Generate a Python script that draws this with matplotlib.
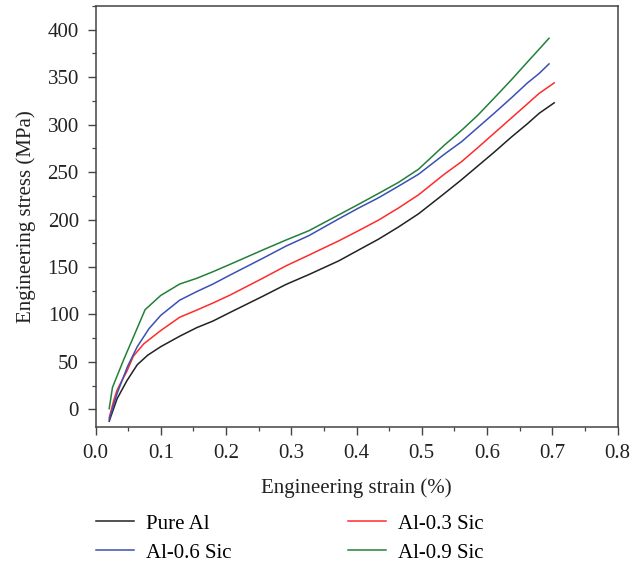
import matplotlib
matplotlib.use("Agg")
import matplotlib.pyplot as plt
from matplotlib.ticker import MultipleLocator, FormatStrFormatter

plt.rcParams["font.family"] = ["Liberation Serif", "DejaVu Serif"]

# strain (%) and stress (MPa)
strain_pure = [0.021, 0.033, 0.048, 0.064, 0.080, 0.100, 0.129, 0.155, 0.180,
               0.206, 0.256, 0.292, 0.327, 0.373, 0.403, 0.434, 0.464, 0.495,
               0.535, 0.561, 0.586, 0.611, 0.637, 0.662, 0.680, 0.703]
stress_pure = [-12.5, 11, 30, 47, 57, 66, 77, 86, 93,
               102, 119, 131.6, 142, 156.5, 167.8, 179.4, 192, 206,
               227.6, 242, 256.5, 271, 286.7, 301, 312, 323]

strain_03 = [0.021, 0.028, 0.033, 0.038, 0.048, 0.058, 0.074, 0.100, 0.129,
             0.155, 0.180, 0.206, 0.256, 0.292, 0.327, 0.373, 0.403, 0.434,
             0.464, 0.495, 0.535, 0.561, 0.586, 0.611, 0.637, 0.662, 0.680, 0.703]
stress_03 = [-9, 9.5, 20, 27, 40, 56, 69, 83, 97,
             104.5, 112, 120.3, 138, 151.2, 162.5, 177.6, 188.2, 199.5,
             212, 226, 248, 261, 275.8, 291, 306.8, 322, 333, 344]

strain_06 = [0.021, 0.033, 0.049, 0.064, 0.082, 0.100, 0.129, 0.155, 0.180,
             0.206, 0.256, 0.292, 0.327, 0.373, 0.403, 0.434, 0.464, 0.495,
             0.535, 0.561, 0.586, 0.611, 0.637, 0.662, 0.680, 0.695]
stress_06 = [-11, 16.5, 45, 66, 85, 99, 115, 124, 132,
             141.4, 159, 172, 183, 200.8, 212, 223, 235, 247.7,
             269, 282, 297, 312, 328, 344, 354, 364]

strain_09 = [0.021, 0.026, 0.033, 0.043, 0.058, 0.076, 0.100, 0.129, 0.155,
             0.180, 0.206, 0.256, 0.292, 0.327, 0.373, 0.403, 0.434, 0.464,
             0.495, 0.535, 0.561, 0.586, 0.611, 0.637, 0.662, 0.680, 0.695]
stress_09 = [0.7, 23, 35, 52, 76, 105, 120, 132, 138,
             145, 152.7, 167.8, 178.4, 188.2, 205, 216, 227.6, 239,
             253, 278.6, 294, 310, 328, 347, 366, 379.6, 391]

fs = 15

fig = plt.figure(figsize=(6.3, 5.63), dpi=100)
ax = fig.add_axes([0.1516, 0.2410, 0.8286, 0.7483])

l_pure, = ax.plot(strain_pure, stress_pure, color="#222222", lw=1.1, label="Pure Al")
l_03, = ax.plot(strain_03, stress_03, color="#ff2b2b", lw=1.1, label="Al-0.3 Sic")
l_06, = ax.plot(strain_06, stress_06, color="#3a50b4", lw=1.1, label="Al-0.6 Sic")
l_09, = ax.plot(strain_09, stress_09, color="#23803a", lw=1.1, label="Al-0.9 Sic")

ax.set_xlim(0, 0.8)
ax.set_ylim(-19, 425)
ax.xaxis.set_major_locator(MultipleLocator(0.1))
ax.xaxis.set_minor_locator(MultipleLocator(0.05))
ax.yaxis.set_major_locator(MultipleLocator(50))
ax.yaxis.set_minor_locator(MultipleLocator(25))
ax.xaxis.set_major_formatter(FormatStrFormatter("%.1f"))
ax.tick_params(which="major", direction="out", length=6, width=1, pad=6,
               labelsize=fs, color="#444444", labelcolor="#222222")
ax.tick_params(which="minor", direction="out", length=3, width=0.9, color="#444444")
for s in ax.spines.values():
    s.set_color("#444444")
    s.set_linewidth(1.1)

ax.set_xlabel("Engineering strain (%)", fontsize=fs, color="#222222", labelpad=11)
ax.set_ylabel("Engineering stress (MPa)", fontsize=fs, color="#222222", labelpad=8)

fig.legend([l_pure, l_06, l_03, l_09],
           ["Pure Al", "Al-0.6 Sic", "Al-0.3 Sic", "Al-0.9 Sic"],
           loc="upper left", bbox_to_anchor=(0.152, 0.087), ncol=2,
           frameon=False, fontsize=fs, handlelength=1.85, handletextpad=0.55,
           columnspacing=5.6, labelspacing=0.45, borderpad=0, borderaxespad=0)

fig.savefig("out.png", dpi=100)
